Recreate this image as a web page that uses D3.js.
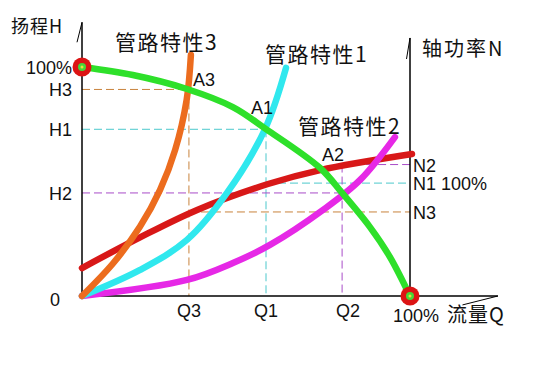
<!DOCTYPE html>
<html><head><meta charset="utf-8">
<script src="https://cdn.jsdelivr.net/npm/d3@7"></script>
<style>
html,body{margin:0;padding:0;background:#fff;}
svg{display:block;}
.lat{font-family:"Liberation Sans",Arial,sans-serif;font-size:18px;fill:#111;}
.cjk{font-family:"Noto Sans CJK SC",sans-serif;fill:#111;}
</style></head>
<body>
<svg id="c" width="553" height="370"></svg>
<script>
// ---- data (flow Q % , head/power %) ----
const pumpCurve = [[0,100],[15.5,96.5],[32,90.4],[46,82.5],[56.1,72.9],[72.6,55.9],[79.3,45],[87.8,30.1],[93.9,17],[100,0]];
const pipe3 = [[0,0],[9.5,14.3],[17.7,30.3],[23.8,46.3],[28.4,63.8],[31.9,85.6],[33.2,105.2]];
const pipe1 = [[0,0],[17.7,11.4],[32,24.5],[44.2,45],[55.8,72.9],[62.2,99.6]];
const pipe2 = [[0,0],[32,7.0],[46,14.4],[57.3,22.3],[73.5,37.6],[84.8,50.7],[95.4,69.4]];
const powerCurve = [[0,12.2],[17.7,25.6],[35.1,37.6],[56.7,48.9],[72.6,55],[100.6,62]];

const opNames = ["A3","A1","A2"];
const opQ = [32.6, 56.1, 79.3];
const opH = [90.2, 72.8, 45];
const opN = [36.7, 49.3, 57.4];
const qLabels = ["Q3","Q1","Q2"];
const hLabels = ["H3","H1","H2"];
const nLabels = ["N3","N1 100%","N2"];
const dashColors = ["#c8823c","#4cc8cc","#a84cc8"];

const pipeNames = ["管路特性3","管路特性1","管路特性2"];

const svg = d3.select("#c");
const x = d3.scaleLinear().domain([0,100]).range([82,410]);
const y = d3.scaleLinear().domain([0,100]).range([296,67]);

// dashed guide lines
opQ.forEach((q,i)=>{
  const c = dashColors[i];
  const g = svg.append("g").attr("stroke",c).attr("stroke-width",1).attr("stroke-dasharray","8,4").attr("fill","none");
  g.append("line").attr("x1",x(0)).attr("x2",x(q)).attr("y1",y(opH[i])).attr("y2",y(opH[i]));
  g.append("line").attr("x1",x(q)).attr("x2",x(q)).attr("y1",y(Math.max(opH[i],opN[i]))).attr("y2",y(0));
  g.append("line").attr("x1",x(q)).attr("x2",x(100)).attr("y1",y(opN[i])).attr("y2",y(opN[i]));
});

// axes
const ax = svg.append("g").attr("stroke","#000").attr("stroke-width",1.5).attr("fill","none");
ax.append("line").attr("x1",x(0)).attr("x2",x(0)).attr("y1",y(0)).attr("y2",y(119.5));
ax.append("path").attr("d",`M${x(0)},${y(119.5)}L${x(0)-5},${y(110.8)}`).attr("stroke-width",1);
ax.append("line").attr("x1",x(100)).attr("x2",x(100)).attr("y1",y(0)).attr("y2",y(112.7));
ax.append("path").attr("d",`M${x(100)},${y(112.7)}L${x(100)-3.5},${y(103.5)}`).attr("stroke-width",1);
ax.append("line").attr("x1",x(0)).attr("x2",x(126.8)).attr("y1",y(0)).attr("y2",y(0));
ax.append("path").attr("d",`M${x(126.8)},${y(0)}L${x(116)},${y(-3.9)}`).attr("stroke-width",1);

const line = d3.line().x(d=>x(d[0])).y(d=>y(d[1])).curve(d3.curveCatmullRom.alpha(0.5));
const curves = [
  [powerCurve,"#d81818"],
  [pipe2,"#e628e6"],
  [pipe1,"#30e8ee"],
  [pipe3,"#ec6c1e"],
  [pumpCurve,"#2ee02a"]
];
curves.forEach(([d,c])=>{
  svg.append("path").attr("d",line(d)).attr("fill","none").attr("stroke",c).attr("stroke-width",6.5).attr("stroke-linecap","round");
});

// markers
[[0,100],[100,0]].forEach(p=>{
  svg.append("circle").attr("cx",x(p[0])).attr("cy",y(p[1])).attr("r",9.5).attr("fill","#dc1414");
  svg.append("circle").attr("cx",x(p[0])).attr("cy",y(p[1])).attr("r",4).attr("fill","#44d838");
  svg.append("circle").attr("cx",x(p[0])).attr("cy",y(p[1])).attr("r",1.5).attr("fill","#e8e040");
});

// texts
const T = (t,xx,yy,cls,anchor,size,ls)=>{
  const e = svg.append("text").attr("x",xx).attr("y",yy).attr("class",cls).text(t);
  if(anchor) e.attr("text-anchor",anchor);
  if(size) e.style("font-size",size+"px");
  if(ls) e.style("letter-spacing",ls+"px");
  return e;
};
T("扬程H",11,33,"cjk",null,18,1);
T("轴功率N",422,56,"cjk",null,20,2);
T("100%",x(0)-10,y(100)+7,"lat","end");
hLabels.forEach((h,i)=>T(h,x(0)-10,y(opH[i])+7,"lat","end"));
T("0",x(0)-22,y(0)+10,"lat","end");
qLabels.forEach((q,i)=>T(q,x(opQ[i])+(i===2?6:0),y(0)+21,"lat","middle"));
nLabels.forEach((n,i)=>T(n,x(100)+3,y(opN[i])+7,"lat"));
T("100%",x(100)-17,y(0)+26,"lat");
T("流量Q",447,322,"cjk",null,20,1);
opNames.forEach((n,i)=>{
  const dx=[4,-15,-20][i], dy=[-3,-15,-32][i];
  T(n,x(opQ[i])+dx,y(opH[i])+dy,"lat");
});
T(pipeNames[0],115,50,"cjk",null,21,1.5);
T(pipeNames[1],265,62,"cjk",null,21,1.5);
T(pipeNames[2],298,134,"cjk",null,21,1.5);
</script>
</body></html>
